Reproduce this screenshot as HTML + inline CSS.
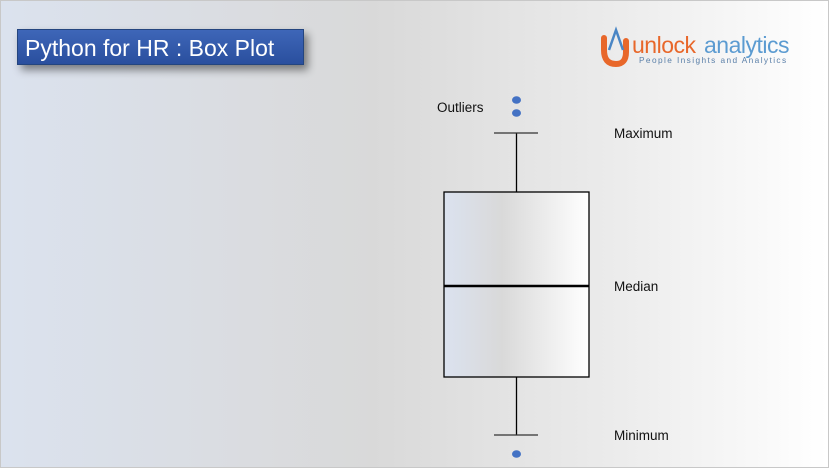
<!DOCTYPE html>
<html><head><meta charset="utf-8"><style>
html,body{margin:0;padding:0}
body{width:829px;height:468px;overflow:hidden;font-family:"Liberation Sans",sans-serif}
#bg{position:absolute;left:0;top:0;width:827px;height:466px;border:1px solid #c8c8c8;
background:linear-gradient(to right,#dbe2ee 0%,#d9d9d9 45%,#ececec 75%,#ffffff 100%)}
#title{position:absolute;left:17px;top:29px;width:287px;height:36px;background:linear-gradient(#3e66b8,#2a4f9e);
color:#fff;font-size:23px;line-height:36px;padding-left:7px;box-sizing:border-box;box-shadow:4px 5px 8px rgba(0,0,0,.45);border:1px solid #24457f}
#logo{position:absolute;left:598px;top:26px;width:215px;height:42px}
</style></head><body>
<div id="bg"></div>
<div id="title">Python for HR : Box Plot</div>
<svg id="logo" viewBox="0 0 215 42">
<path d="M6 12 V24 Q6 38 18 38 Q28 38 28 26 V15" fill="none" stroke="#e8672a" stroke-width="6" stroke-linecap="round"/>
<path d="M11 24 L18 4 L25 24" fill="none" stroke="#4a86c5" stroke-width="2.5"/>
<text x="34" y="27" font-size="23" fill="#e8672a" font-family="Liberation Sans" letter-spacing="-0.5">unlock</text>
<text x="106" y="27" font-size="23" fill="#5b9bd1" font-family="Liberation Sans" letter-spacing="-0.5">analytics</text>
<text x="41" y="37" font-size="8.3" fill="#5a7fa8" font-family="Liberation Sans" letter-spacing="1.4">People Insights and Analytics</text>
</svg>
<svg id="chart" width="829" height="468" style="position:absolute;left:0;top:0">
<defs><linearGradient id="bx" x1="0" x2="1"><stop offset="0" stop-color="#dbe2ef"/><stop offset="0.4" stop-color="#d9d9d9"/><stop offset="1" stop-color="#ffffff"/></linearGradient></defs>
</svg>
<script>
const quartiles=[46.5,92,139];
const whiskers=[17.5,168.5];
const outliers=[185,178.5,8];
const labelNames=["Maximum","Median","Minimum"];
const labelValues=[168.5,92,17.5];
const outlierLabel="Outliers";
const outlierLabelValue=181.5;

const svg=document.getElementById('chart');
const NS='http://www.w3.org/2000/svg';
function y(v){return 470-2*v;}
const cx=516.5,boxL=444,boxR=589,capL=494,capR=538;
function mk(t,a){const e=document.createElementNS(NS,t);for(const k in a)e.setAttribute(k,a[k]);svg.appendChild(e);return e;}
let e;
e=mk('line',{x1:cx,x2:cx,y1:y(whiskers[1]),y2:y(quartiles[2]),stroke:'#000','stroke-width':1.3});

e=mk('line',{x1:cx,x2:cx,y1:y(quartiles[0]),y2:y(whiskers[0]),stroke:'#000','stroke-width':1.3});

e=mk('line',{x1:capL,x2:capR,y1:y(whiskers[1]),y2:y(whiskers[1]),stroke:'#333','stroke-width':1.3});

e=mk('line',{x1:capL,x2:capR,y1:y(whiskers[0]),y2:y(whiskers[0]),stroke:'#333','stroke-width':1.3});

e=mk('rect',{x:boxL,y:y(quartiles[2]),width:boxR-boxL,height:y(quartiles[0])-y(quartiles[2]),fill:'url(#bx)',stroke:'#000','stroke-width':1.3});

e=mk('line',{x1:boxL,x2:boxR,y1:y(quartiles[1]),y2:y(quartiles[1]),stroke:'#000','stroke-width':2.6});

outliers.forEach(v=>{const o=mk('ellipse',{cx:cx,cy:y(v),rx:4.5,ry:3.8,fill:'#4472c4'});

});
labelNames.forEach((n,i)=>{const t=mk('text',{x:614,y:y(labelValues[i])+5,'font-size':13.5,fill:'#111','font-family':'Liberation Sans'});t.textContent=n;

});
e=mk('text',{x:437,y:y(outlierLabelValue)+5,'font-size':13.5,fill:'#111','font-family':'Liberation Sans'});e.textContent=outlierLabel;


</script>
</body></html>
